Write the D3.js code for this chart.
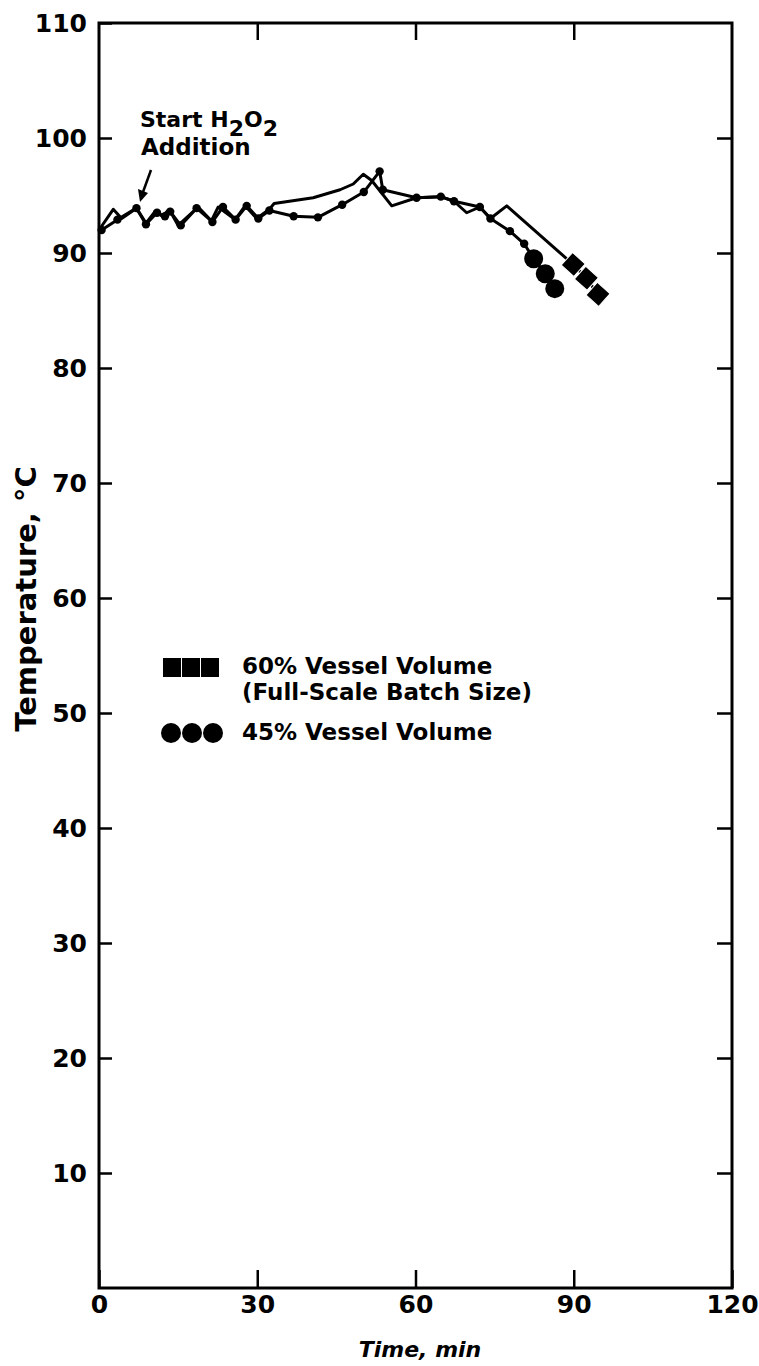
<!DOCTYPE html>
<html>
<head>
<meta charset="utf-8">
<script src="https://cdn.jsdelivr.net/npm/d3@7"></script>
<style>
  body { margin: 0; background: #fff; }
  svg { display: block; }
  text { font-family: "DejaVu Sans", "Liberation Sans", Arial, sans-serif; font-weight: bold; fill: #000; }
</style>
</head>
<body>
<div id="chart"></div>
<script>
// setup
var w = 759;
var h = 1366;
var margin = {top: 23, right: 27, bottom: 78, left: 99};

// data: [time (min), temperature (C)]
var vol60 = [
  [0, 92.0], [2.7, 93.8], [4.3, 93.0], [7.1, 93.9], [8.9, 92.6], [10.6, 93.6],
  [12.0, 93.2], [13.3, 93.8], [15.0, 92.4], [18.8, 94.0], [21.3, 92.8], [22.6, 94.0],
  [25.8, 92.9], [27.7, 94.1], [29.9, 93.0], [32.3, 93.8], [33.2, 94.3], [40.6, 94.8],
  [45.7, 95.5], [48.2, 96.0], [50.1, 96.85], [51.7, 96.3], [55.5, 94.1], [60.2, 94.8],
  [64.8, 94.9], [67.3, 94.5], [69.7, 93.5], [72.2, 94.0], [74.2, 93.0], [77.3, 94.1],
  [89.9, 89.0], [92.4, 87.8], [94.6, 86.4]
];
var vol60Big = [[89.9, 89.0], [92.4, 87.8], [94.6, 86.4]];

var vol45 = [
  [0.5, 92.0], [3.5, 92.9], [7.1, 93.9], [8.9, 92.5], [11.0, 93.5], [12.5, 93.2],
  [13.5, 93.6], [15.5, 92.4], [18.5, 93.9], [21.5, 92.7], [23.5, 94.0], [25.9, 92.9],
  [28.0, 94.1], [30.2, 93.0], [32.3, 93.7], [36.9, 93.2], [41.5, 93.1], [46.1, 94.2],
  [50.2, 95.3], [53.2, 97.1], [53.8, 95.5], [60.2, 94.8], [64.8, 94.9], [67.3, 94.5],
  [72.2, 94.0], [74.2, 93.0], [77.9, 91.9], [80.6, 90.8], [82.4, 89.5], [84.6, 88.2],
  [86.4, 86.9]
];
var vol45Big = [[82.4, 89.5], [84.6, 88.2], [86.4, 86.9]];

var xTicks = [0, 30, 60, 90, 120];
var yTicks = [10, 20, 30, 40, 50, 60, 70, 80, 90, 100, 110];
var legendLabels = ["60% Vessel Volume", "(Full-Scale Batch Size)", "45% Vessel Volume"];

var svg = d3.select("#chart")
            .append("svg")
            .attr("width", w)
            .attr("height", h);

var x = d3.scaleLinear().domain([0, 120]).range([margin.left, w - margin.right]);
var y = d3.scaleLinear().domain([0, 110]).range([h - margin.bottom, margin.top]);

// axes, ticks point inward on all four sides
svg.append("g")
    .attr("transform", "translate(0," + y(0) + ")")
    .call(d3.axisBottom(x).tickValues(xTicks).tickSize(-18).tickSizeOuter(0).tickPadding(7));
svg.append("g")
    .attr("transform", "translate(0," + y(110) + ")")
    .call(d3.axisTop(x).tickValues([30, 60, 90]).tickSize(-17).tickSizeOuter(0).tickFormat(""));
svg.append("g")
    .attr("transform", "translate(" + x(0) + ",0)")
    .call(d3.axisLeft(y).tickValues(yTicks).tickSize(-13).tickSizeOuter(0).tickPadding(12));
svg.append("g")
    .attr("transform", "translate(" + x(120) + ",0)")
    .call(d3.axisRight(y).tickValues(yTicks.slice(0, 10)).tickSize(-15).tickSizeOuter(0).tickFormat(""));
svg.selectAll(".domain").remove();
svg.selectAll(".tick line").attr("stroke", "#000").attr("stroke-width", 2.5);
svg.selectAll(".tick text")
    .attr("fill", "#000")
    .style("font-family", "'DejaVu Sans', sans-serif")
    .style("font-weight", "bold")
    .style("font-size", "25px");

// frame
svg.append("rect")
    .attr("x", x(0)).attr("y", y(110))
    .attr("width", x(120) - x(0)).attr("height", y(0) - y(110))
    .attr("fill", "none").attr("stroke", "#000").attr("stroke-width", 3);

// axis titles
svg.append("text")
    .attr("x", 420).attr("y", 1357)
    .attr("text-anchor", "middle")
    .style("font-size", "22px").style("font-style", "italic")
    .text("Time, min");
svg.append("text")
    .attr("transform", "translate(36,599) rotate(-90)")
    .attr("text-anchor", "middle")
    .style("font-size", "29px")
    .text("Temperature, \u00b0C");

// curves
var line = d3.line().x(function(d){ return x(d[0]); }).y(function(d){ return y(d[1]); });
svg.append("path").datum(vol60).attr("d", line)
    .attr("fill", "none").attr("stroke", "#000").attr("stroke-width", 3).attr("stroke-linejoin", "round");
svg.append("path").datum(vol45).attr("d", line)
    .attr("fill", "none").attr("stroke", "#000").attr("stroke-width", 3).attr("stroke-linejoin", "round");

svg.append("g").selectAll("circle")
    .data(vol45.slice(0, vol45.length - 3))
    .enter().append("circle")
    .attr("cx", function(d){ return x(d[0]); })
    .attr("cy", function(d){ return y(d[1]); })
    .attr("r", 4.2).attr("fill", "#000");
svg.append("g").selectAll("circle")
    .data(vol45Big)
    .enter().append("circle")
    .attr("cx", function(d){ return x(d[0]); })
    .attr("cy", function(d){ return y(d[1]); })
    .attr("r", 9.5).attr("fill", "#000");
svg.append("g").selectAll("rect")
    .data(vol60Big)
    .enter().append("rect")
    .attr("x", -8.5).attr("y", -8.5).attr("width", 17).attr("height", 17)
    .attr("transform", function(d){ return "translate(" + x(d[0]) + "," + y(d[1]) + ") rotate(42)"; })
    .attr("fill", "#000").attr("stroke", "#fff").attr("stroke-width", 1);

// annotation
var note = svg.append("text").attr("x", 140).attr("y", 127).style("font-size", "22px");
note.append("tspan").text("Start H");
note.append("tspan").attr("dy", 9).text("2");
note.append("tspan").attr("dy", -9).text("O");
note.append("tspan").attr("dy", 9).text("2");
svg.append("text").attr("x", 141).attr("y", 155).style("font-size", "23px").text("Addition");
svg.append("line")
    .attr("x1", 151).attr("y1", 170).attr("x2", 143).attr("y2", 192)
    .attr("stroke", "#000").attr("stroke-width", 2.5);
svg.append("path")
    .attr("d", "M138,189 L148,193 L140,202 Z")
    .attr("fill", "#000");

// legend
var lg = svg.append("g");
lg.selectAll("rect")
    .data([0, 1, 2])
    .enter().append("rect")
    .attr("x", function(d){ return 163 + d * 19; }).attr("y", 658)
    .attr("width", 18).attr("height", 19).attr("fill", "#000");
lg.selectAll("circle")
    .data([0, 1, 2])
    .enter().append("circle")
    .attr("cx", function(d){ return 171 + d * 21; }).attr("cy", 733)
    .attr("r", 10).attr("fill", "#000");
lg.append("text").attr("x", 242).attr("y", 674).style("font-size", "23px").text(legendLabels[0]);
lg.append("text").attr("x", 242).attr("y", 700).style("font-size", "23px").text(legendLabels[1]);
lg.append("text").attr("x", 242).attr("y", 740).style("font-size", "23px").text(legendLabels[2]);
</script>
</body>
</html>
